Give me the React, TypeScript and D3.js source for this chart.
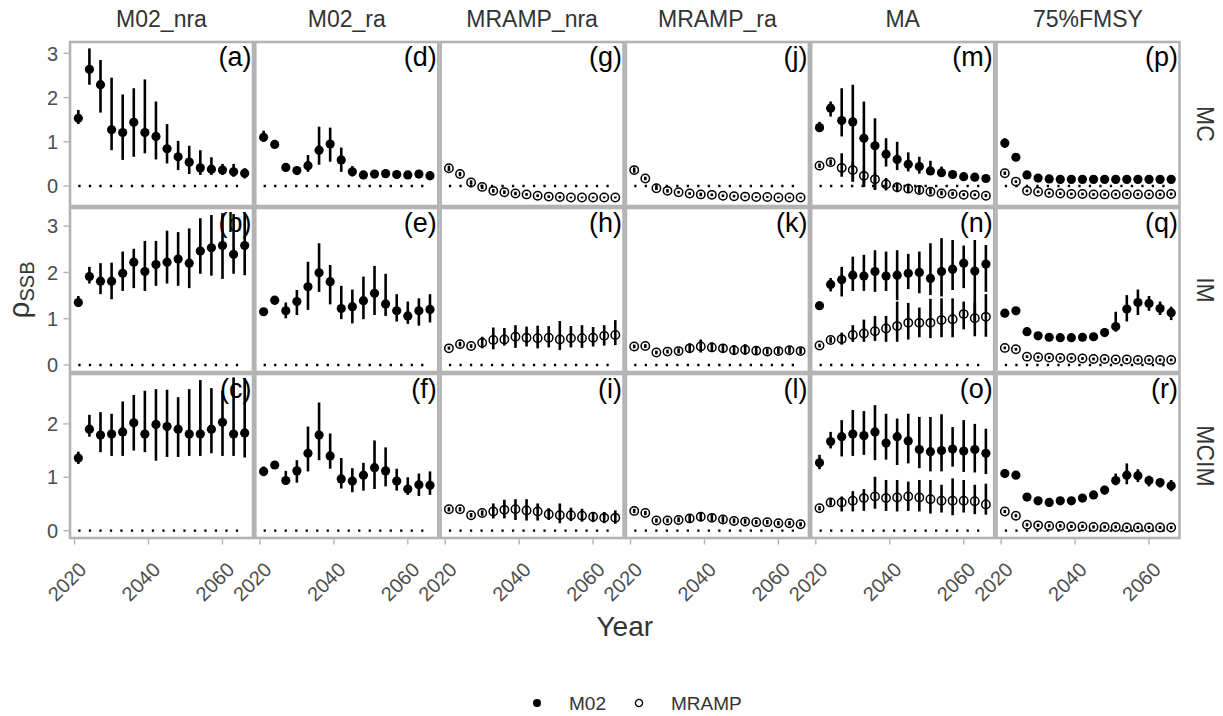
import React from 'react';
import * as d3 from 'd3';

// ---- data ----
const years = [2021, 2024, 2027, 2030, 2033, 2036, 2039, 2042, 2045, 2048, 2051, 2054, 2057, 2060, 2063, 2066];
const xTickYears = [2020, 2040, 2060];
const scenarios = ['M02_nra', 'M02_ra', 'MRAMP_nra', 'MRAMP_ra', 'MA', '75%FMSY'];
const oms = ['MC', 'IM', 'MCIM'];
const tags = [
  ['(a)', '(d)', '(g)', '(j)', '(m)', '(p)'],
  ['(b)', '(e)', '(h)', '(k)', '(n)', '(q)'],
  ['(c)', '(f)', '(i)', '(l)', '(o)', '(r)'],
];
const yTicksByRow = [[0, 1, 2, 3], [0, 1, 2, 3], [0, 1, 2]];
const legendKeys = ['M02', 'MRAMP'];

// MC row
const a_m = [1.53, 2.64, 2.29, 1.27, 1.21, 1.44, 1.21, 1.12, 0.84, 0.66, 0.54, 0.41, 0.38, 0.36, 0.32, 0.29];
const a_lo = [1.40, 2.29, 1.66, 0.81, 0.59, 0.66, 0.74, 0.60, 0.51, 0.36, 0.27, 0.25, 0.25, 0.25, 0.21, 0.17];
const a_hi = [1.72, 3.11, 2.85, 2.45, 2.07, 2.21, 2.41, 1.91, 1.40, 1.02, 0.91, 0.81, 0.65, 0.50, 0.50, 0.40];

const d_m = [1.10, 0.94, 0.42, 0.35, 0.46, 0.81, 0.95, 0.59, 0.32, 0.25, 0.27, 0.28, 0.26, 0.25, 0.27, 0.23];
const d_lo = [1.00, 0.89, 0.37, 0.31, 0.32, 0.48, 0.55, 0.32, 0.22, 0.19, 0.18, 0.20, 0.21, 0.21, 0.20, 0.14];
const d_hi = [1.25, 0.99, 0.47, 0.39, 0.70, 1.34, 1.32, 0.87, 0.45, 0.30, 0.35, 0.38, 0.30, 0.28, 0.33, 0.34];

const g_m = [0.40, 0.27, 0.08, -0.02, -0.11, -0.14, -0.17, -0.19, -0.22, -0.24, -0.25, -0.26, -0.26, -0.26, -0.26, -0.26];
const g_lo = [0.34, 0.22, 0.03, -0.07, -0.15, -0.18, -0.21, -0.22, -0.25, -0.27, -0.28, -0.28, -0.28, -0.28, -0.28, -0.28];
const g_hi = [0.46, 0.32, 0.13, 0.03, -0.07, -0.10, -0.13, -0.16, -0.19, -0.21, -0.22, -0.24, -0.24, -0.24, -0.24, -0.24];

const j_m = [0.36, 0.17, -0.05, -0.11, -0.14, -0.17, -0.19, -0.20, -0.22, -0.23, -0.24, -0.25, -0.25, -0.26, -0.26, -0.26];
const j_lo = [0.30, 0.13, -0.09, -0.15, -0.17, -0.20, -0.23, -0.23, -0.25, -0.26, -0.26, -0.27, -0.27, -0.28, -0.28, -0.28];
const j_hi = [0.42, 0.21, -0.01, -0.07, -0.11, -0.14, -0.15, -0.17, -0.19, -0.20, -0.22, -0.23, -0.23, -0.24, -0.24, -0.24];

const m_m02 = [1.32, 1.76, 1.48, 1.45, 1.08, 0.91, 0.72, 0.60, 0.49, 0.44, 0.34, 0.30, 0.26, 0.21, 0.20, 0.17];
const m_m02lo = [1.22, 1.57, 1.12, 0.10, -0.02, -0.09, 0.44, 0.36, 0.33, 0.28, 0.25, 0.25, 0.22, 0.18, 0.17, 0.14];
const m_m02hi = [1.45, 1.91, 2.21, 2.29, 1.91, 1.53, 1.08, 1.00, 0.76, 0.66, 0.57, 0.44, 0.32, 0.25, 0.24, 0.21];
const m_mr = [0.46, 0.54, 0.41, 0.36, 0.23, 0.15, 0.04, -0.03, -0.06, -0.09, -0.13, -0.17, -0.18, -0.20, -0.20, -0.22];
const m_mrlo = [0.41, 0.47, 0.21, 0.10, -0.02, -0.07, -0.10, -0.14, -0.15, -0.17, -0.19, -0.21, -0.22, -0.23, -0.23, -0.25];
const m_mrhi = [0.51, 0.60, 0.74, 0.55, 0.35, 0.30, 0.18, 0.08, 0.05, 0.01, -0.05, -0.11, -0.13, -0.16, -0.17, -0.18];

const p_m02 = [0.97, 0.65, 0.25, 0.18, 0.16, 0.15, 0.15, 0.15, 0.15, 0.15, 0.15, 0.15, 0.15, 0.15, 0.15, 0.15];
const p_m02lo = [0.86, 0.60, 0.21, 0.15, 0.13, 0.12, 0.12, 0.12, 0.12, 0.12, 0.12, 0.12, 0.12, 0.12, 0.12, 0.12];
const p_m02hi = [1.08, 0.70, 0.29, 0.21, 0.19, 0.18, 0.18, 0.18, 0.18, 0.18, 0.18, 0.18, 0.18, 0.18, 0.18, 0.18];
const p_mr = [0.29, 0.10, -0.11, -0.13, -0.16, -0.17, -0.18, -0.18, -0.19, -0.19, -0.19, -0.19, -0.19, -0.19, -0.19, -0.18];
const p_mrlo = [0.25, 0.07, -0.14, -0.16, -0.19, -0.20, -0.21, -0.21, -0.22, -0.22, -0.22, -0.22, -0.22, -0.22, -0.22, -0.21];
const p_mrhi = [0.33, 0.13, -0.08, -0.10, -0.13, -0.14, -0.15, -0.15, -0.16, -0.16, -0.16, -0.16, -0.16, -0.16, -0.16, -0.15];

// IM row
const b_m = [1.35, 1.91, 1.81, 1.81, 1.98, 2.22, 2.02, 2.17, 2.22, 2.29, 2.20, 2.46, 2.53, 2.58, 2.39, 2.58];
const b_lo = [1.26, 1.76, 1.53, 1.42, 1.60, 1.66, 1.60, 1.71, 1.76, 1.71, 1.66, 1.97, 1.93, 1.86, 1.97, 1.94];
const b_hi = [1.49, 2.12, 2.20, 2.21, 2.45, 2.51, 2.68, 2.68, 2.90, 2.87, 2.95, 3.17, 3.24, 3.28, 3.26, 3.29];

const e_m = [1.15, 1.40, 1.17, 1.37, 1.69, 1.99, 1.80, 1.22, 1.26, 1.39, 1.55, 1.32, 1.17, 1.06, 1.17, 1.20];
const e_lo = [1.10, 1.30, 1.01, 1.08, 1.19, 1.58, 1.31, 0.99, 0.90, 0.99, 1.08, 1.06, 0.94, 0.89, 0.85, 0.92];
const e_hi = [1.22, 1.47, 1.35, 1.62, 2.23, 2.63, 2.16, 1.71, 1.63, 1.91, 2.14, 1.97, 1.53, 1.37, 1.44, 1.53];

const h_m = [0.36, 0.45, 0.41, 0.48, 0.54, 0.55, 0.61, 0.59, 0.58, 0.59, 0.55, 0.58, 0.58, 0.59, 0.63, 0.65];
const h_lo = [0.33, 0.40, 0.37, 0.36, 0.34, 0.42, 0.37, 0.40, 0.36, 0.38, 0.32, 0.38, 0.37, 0.40, 0.42, 0.43];
const h_hi = [0.40, 0.50, 0.45, 0.61, 0.81, 0.80, 0.86, 0.83, 0.85, 0.84, 0.95, 0.84, 0.86, 0.82, 0.86, 0.97];

const k_m = [0.40, 0.41, 0.27, 0.29, 0.30, 0.36, 0.40, 0.38, 0.36, 0.32, 0.33, 0.31, 0.29, 0.30, 0.32, 0.30];
const k_lo = [0.36, 0.37, 0.23, 0.25, 0.25, 0.26, 0.27, 0.28, 0.28, 0.22, 0.22, 0.23, 0.23, 0.24, 0.25, 0.24];
const k_hi = [0.44, 0.45, 0.31, 0.33, 0.36, 0.47, 0.55, 0.49, 0.45, 0.43, 0.45, 0.40, 0.36, 0.37, 0.40, 0.37];

const n_m02 = [1.28, 1.74, 1.84, 1.94, 1.92, 2.02, 1.92, 1.94, 1.98, 2.00, 1.87, 2.02, 2.07, 2.20, 2.03, 2.18];
const n_m02lo = [1.20, 1.59, 1.48, 1.60, 1.60, 1.58, 1.60, 1.40, 1.64, 1.55, 1.51, 1.48, 1.62, 1.66, 0.95, 1.58];
const n_m02hi = [1.37, 1.88, 2.12, 2.34, 2.38, 2.48, 2.45, 2.48, 2.40, 2.45, 2.63, 2.74, 2.70, 2.58, 2.70, 2.59];
const n_mr = [0.42, 0.54, 0.56, 0.65, 0.68, 0.73, 0.79, 0.84, 0.91, 0.91, 0.91, 0.97, 0.99, 1.10, 1.01, 1.04];
const n_mrlo = [0.38, 0.48, 0.44, 0.50, 0.50, 0.52, 0.50, 0.50, 0.55, 0.60, 0.58, 0.60, 0.60, 0.77, 0.62, 0.61];
const n_mrhi = [0.46, 0.60, 0.70, 0.86, 0.98, 1.06, 1.06, 1.37, 1.34, 1.24, 1.43, 1.44, 1.44, 1.37, 1.35, 1.53];

const q_m02 = [1.12, 1.17, 0.72, 0.63, 0.60, 0.59, 0.59, 0.60, 0.61, 0.70, 0.83, 1.21, 1.35, 1.33, 1.22, 1.13];
const q_m02lo = [1.07, 1.12, 0.68, 0.59, 0.56, 0.55, 0.55, 0.56, 0.57, 0.62, 0.72, 0.94, 1.08, 1.17, 1.08, 0.97];
const q_m02hi = [1.17, 1.22, 0.76, 0.67, 0.64, 0.63, 0.63, 0.64, 0.66, 0.79, 1.15, 1.51, 1.63, 1.49, 1.37, 1.26];
const q_mr = [0.37, 0.34, 0.18, 0.17, 0.16, 0.15, 0.15, 0.14, 0.13, 0.13, 0.12, 0.12, 0.11, 0.11, 0.11, 0.11];
const q_mrlo = [0.34, 0.31, 0.15, 0.14, 0.13, 0.12, 0.12, 0.11, 0.10, 0.10, 0.09, 0.09, 0.08, 0.08, 0.08, 0.08];
const q_mrhi = [0.40, 0.37, 0.21, 0.20, 0.19, 0.18, 0.18, 0.17, 0.16, 0.16, 0.15, 0.15, 0.14, 0.14, 0.14, 0.14];

// MCIM row
const c_m = [1.36, 1.90, 1.79, 1.81, 1.85, 2.02, 1.81, 1.99, 1.95, 1.90, 1.81, 1.81, 1.90, 2.03, 1.81, 1.83];
const c_lo = [1.25, 1.76, 1.47, 1.40, 1.40, 1.50, 1.47, 1.31, 1.38, 1.38, 1.40, 1.40, 1.45, 1.40, 1.40, 1.37];
const c_hi = [1.48, 2.17, 2.22, 2.19, 2.42, 2.54, 2.62, 2.65, 2.64, 2.50, 2.65, 2.82, 2.67, 2.62, 2.87, 2.86];

const f_m = [1.11, 1.23, 0.94, 1.12, 1.45, 1.79, 1.40, 0.97, 0.93, 1.04, 1.18, 1.12, 0.93, 0.78, 0.86, 0.85];
const f_lo = [1.02, 1.18, 0.87, 0.90, 1.11, 1.32, 1.16, 0.79, 0.72, 0.75, 0.78, 0.83, 0.75, 0.67, 0.65, 0.67];
const f_hi = [1.20, 1.28, 1.12, 1.32, 1.95, 2.40, 1.82, 1.36, 1.17, 1.27, 1.69, 1.56, 1.16, 1.00, 1.07, 1.11];

const i_m = [0.40, 0.40, 0.29, 0.33, 0.36, 0.39, 0.40, 0.38, 0.36, 0.31, 0.29, 0.29, 0.28, 0.26, 0.24, 0.24];
const i_lo = [0.36, 0.36, 0.25, 0.28, 0.23, 0.23, 0.20, 0.19, 0.19, 0.20, 0.14, 0.18, 0.17, 0.16, 0.14, 0.13];
const i_hi = [0.44, 0.44, 0.33, 0.38, 0.51, 0.58, 0.59, 0.59, 0.51, 0.42, 0.51, 0.43, 0.41, 0.35, 0.35, 0.38];

const l_m = [0.37, 0.33, 0.19, 0.19, 0.20, 0.23, 0.26, 0.24, 0.21, 0.18, 0.17, 0.16, 0.16, 0.14, 0.14, 0.12];
const l_lo = [0.33, 0.29, 0.15, 0.15, 0.16, 0.16, 0.18, 0.18, 0.15, 0.14, 0.13, 0.12, 0.12, 0.10, 0.10, 0.08];
const l_hi = [0.41, 0.37, 0.23, 0.23, 0.25, 0.31, 0.34, 0.31, 0.27, 0.23, 0.22, 0.20, 0.20, 0.18, 0.18, 0.16];

const o_m02 = [1.27, 1.67, 1.76, 1.81, 1.78, 1.85, 1.64, 1.76, 1.68, 1.52, 1.48, 1.50, 1.53, 1.49, 1.52, 1.45];
const o_m02lo = [1.15, 1.54, 1.39, 1.40, 1.42, 1.32, 1.33, 1.23, 1.26, 1.17, 1.11, 1.11, 1.20, 1.10, 1.09, 1.06];
const o_m02hi = [1.42, 1.85, 2.07, 2.26, 2.24, 2.35, 2.19, 2.10, 2.19, 2.13, 2.13, 2.18, 1.94, 2.07, 2.00, 1.91];
const o_mr = [0.42, 0.53, 0.53, 0.56, 0.61, 0.64, 0.61, 0.62, 0.64, 0.62, 0.59, 0.56, 0.56, 0.56, 0.55, 0.49];
const o_mrlo = [0.38, 0.47, 0.36, 0.36, 0.37, 0.41, 0.37, 0.36, 0.37, 0.36, 0.32, 0.34, 0.29, 0.34, 0.31, 0.30];
const o_mrhi = [0.46, 0.60, 0.64, 0.74, 0.78, 1.01, 0.95, 0.95, 0.92, 0.95, 0.95, 0.86, 0.98, 0.95, 0.86, 0.88];

const r_m02 = [1.07, 1.04, 0.63, 0.56, 0.53, 0.56, 0.56, 0.61, 0.67, 0.76, 0.94, 1.04, 1.03, 0.94, 0.90, 0.84];
const r_m02lo = [1.03, 1.00, 0.59, 0.52, 0.49, 0.52, 0.52, 0.56, 0.60, 0.68, 0.85, 0.87, 0.91, 0.83, 0.81, 0.74];
const r_m02hi = [1.11, 1.08, 0.67, 0.60, 0.57, 0.60, 0.60, 0.66, 0.73, 0.84, 1.07, 1.26, 1.15, 1.03, 0.98, 0.95];
const r_mr = [0.36, 0.28, 0.11, 0.10, 0.09, 0.09, 0.08, 0.08, 0.07, 0.07, 0.07, 0.06, 0.06, 0.06, 0.06, 0.06];
const r_mrlo = [0.33, 0.25, 0.08, 0.07, 0.06, 0.06, 0.05, 0.05, 0.04, 0.04, 0.04, 0.03, 0.03, 0.03, 0.03, 0.03];
const r_mrhi = [0.39, 0.31, 0.14, 0.13, 0.12, 0.12, 0.11, 0.11, 0.10, 0.10, 0.10, 0.09, 0.09, 0.09, 0.09, 0.09];

type Series = { kind: string; mid: number[]; lo: number[]; hi: number[] };
const S = (kind: string, mid: number[], lo: number[], hi: number[]): Series => ({ kind, mid, lo, hi });

// panels[row][col]
const panels: Series[][][] = [
  [
    [S('M02', a_m, a_lo, a_hi)],
    [S('M02', d_m, d_lo, d_hi)],
    [S('MRAMP', g_m, g_lo, g_hi)],
    [S('MRAMP', j_m, j_lo, j_hi)],
    [S('M02', m_m02, m_m02lo, m_m02hi), S('MRAMP', m_mr, m_mrlo, m_mrhi)],
    [S('M02', p_m02, p_m02lo, p_m02hi), S('MRAMP', p_mr, p_mrlo, p_mrhi)],
  ],
  [
    [S('M02', b_m, b_lo, b_hi)],
    [S('M02', e_m, e_lo, e_hi)],
    [S('MRAMP', h_m, h_lo, h_hi)],
    [S('MRAMP', k_m, k_lo, k_hi)],
    [S('M02', n_m02, n_m02lo, n_m02hi), S('MRAMP', n_mr, n_mrlo, n_mrhi)],
    [S('M02', q_m02, q_m02lo, q_m02hi), S('MRAMP', q_mr, q_mrlo, q_mrhi)],
  ],
  [
    [S('M02', c_m, c_lo, c_hi)],
    [S('M02', f_m, f_lo, f_hi)],
    [S('MRAMP', i_m, i_lo, i_hi)],
    [S('MRAMP', l_m, l_lo, l_hi)],
    [S('M02', o_m02, o_m02lo, o_m02hi), S('MRAMP', o_mr, o_mrlo, o_mrhi)],
    [S('M02', r_m02, r_m02lo, r_m02hi), S('MRAMP', r_mr, r_mrlo, r_mrhi)],
  ],
];

// ---- layout ----
const W = 1223;
const H = 716;
const LEFT = 70;
const PITCH_X = 185.3;
const PW = 183;
const ROW_TOPS = [42, 208, 374];
const PH = 164;
const Y_DOMAINS: [number, number][] = [[-0.452, 3.256], [-0.151, 3.391], [-0.137, 2.934]];
const BORDER = '#b3b3b3';
const FONT = '"Liberation Sans", Arial, Helvetica, sans-serif';

const x = d3.scaleLinear().domain([2018.75, 2068.25]).range([0, PW]);

function Panel({ row, col }: { row: number; col: number }) {
  const y = d3.scaleLinear().domain(Y_DOMAINS[row]).range([PH, 0]);
  const series = panels[row][col];
  return (
    <g transform={`translate(${LEFT + col * PITCH_X},${ROW_TOPS[row]})`}>
      <line
        x1={x(years[0])}
        x2={x(years[years.length - 1])}
        y1={y(0)}
        y2={y(0)}
        stroke="#000"
        strokeWidth={2.3}
        strokeDasharray="2.3 8.2"
      />
      {series.map((s, si) => (
        <g key={si}>
          {years.map((yr, i) => (
            <g key={yr}>
              <line x1={x(yr)} x2={x(yr)} y1={y(s.lo[i])} y2={y(s.hi[i])} stroke="#000" strokeWidth={2.6} />
              {s.kind === 'M02' ? (
                <circle cx={x(yr)} cy={y(s.mid[i])} r={4.6} fill="#000" />
              ) : (
                <circle cx={x(yr)} cy={y(s.mid[i])} r={4.2} fill="none" stroke="#000" strokeWidth={1.5} />
              )}
            </g>
          ))}
        </g>
      ))}
      <rect x={0} y={0} width={PW} height={PH} fill="none" stroke={BORDER} strokeWidth={2.6} />
      <text x={PW - 1.5} y={24} textAnchor="end" fontSize={27} fill="#000">
        {tags[row][col]}
      </text>
      {col === 0 &&
        yTicksByRow[row].map((t) => (
          <g key={t}>
            <line x1={-6.5} x2={-1.3} y1={y(t)} y2={y(t)} stroke={BORDER} strokeWidth={1.4} />
            <text x={-12} y={y(t)} dy="0.36em" textAnchor="end" fontSize={20} fill="#4d4d4d">
              {t}
            </text>
          </g>
        ))}
      {row === 2 &&
        xTickYears.map((t) => (
          <g key={t}>
            <line x1={x(t)} x2={x(t)} y1={PH + 1.3} y2={PH + 6.5} stroke={BORDER} strokeWidth={1.4} />
            <text
              transform={`translate(${x(t) + 13},${PH + 33}) rotate(-45)`}
              textAnchor="end"
              fontSize={20}
              fill="#4d4d4d"
            >
              {t}
            </text>
          </g>
        ))}
    </g>
  );
}

export default function App() {
  const cx = LEFT + (PITCH_X * 5 + PW) / 2;
  const cy = (ROW_TOPS[0] + ROW_TOPS[2] + PH) / 2;
  return (
    <svg
      width={W}
      height={H}
      style={{ position: 'absolute', left: 0, top: 0, background: '#fff' }}
      fontFamily={FONT}
    >
      <rect width={W} height={H} fill="#fff" />
      {scenarios.map((s, c) => (
        <text key={s} x={LEFT + c * PITCH_X + PW / 2} y={27} textAnchor="middle" fontSize={23} fill="#333">
          {s}
        </text>
      ))}
      {oms.map((o, r) => (
        <text
          key={o}
          transform={`translate(${1197},${ROW_TOPS[r] + PH / 2}) rotate(90)`}
          textAnchor="middle"
          fontSize={23}
          fill="#333"
        >
          {o}
        </text>
      ))}
      {oms.map((_, r) => scenarios.map((__, c) => <Panel key={`${r}-${c}`} row={r} col={c} />))}
      <text x={cx} y={636} textAnchor="middle" fontSize={28} fill="#333">
        Year
      </text>
      <text transform={`translate(29,${cy}) rotate(-90)`} textAnchor="middle" fill="#333">
        <tspan fontSize={30}>ρ</tspan>
        <tspan fontSize={20} dy={5}>SSB</tspan>
      </text>
      <g transform="translate(537,703)">
        {legendKeys.map((k, i) => (
          <g key={k} transform={`translate(${i * 102},0)`}>
            {k === 'M02' ? (
              <circle cx={0} cy={0} r={4} fill="#000" />
            ) : (
              <circle cx={0} cy={0} r={3.6} fill="none" stroke="#000" strokeWidth={1.3} />
            )}
            <text x={32} y={0} dy="0.36em" fontSize={19} fill="#333">
              {k}
            </text>
          </g>
        ))}
      </g>
    </svg>
  );
}
